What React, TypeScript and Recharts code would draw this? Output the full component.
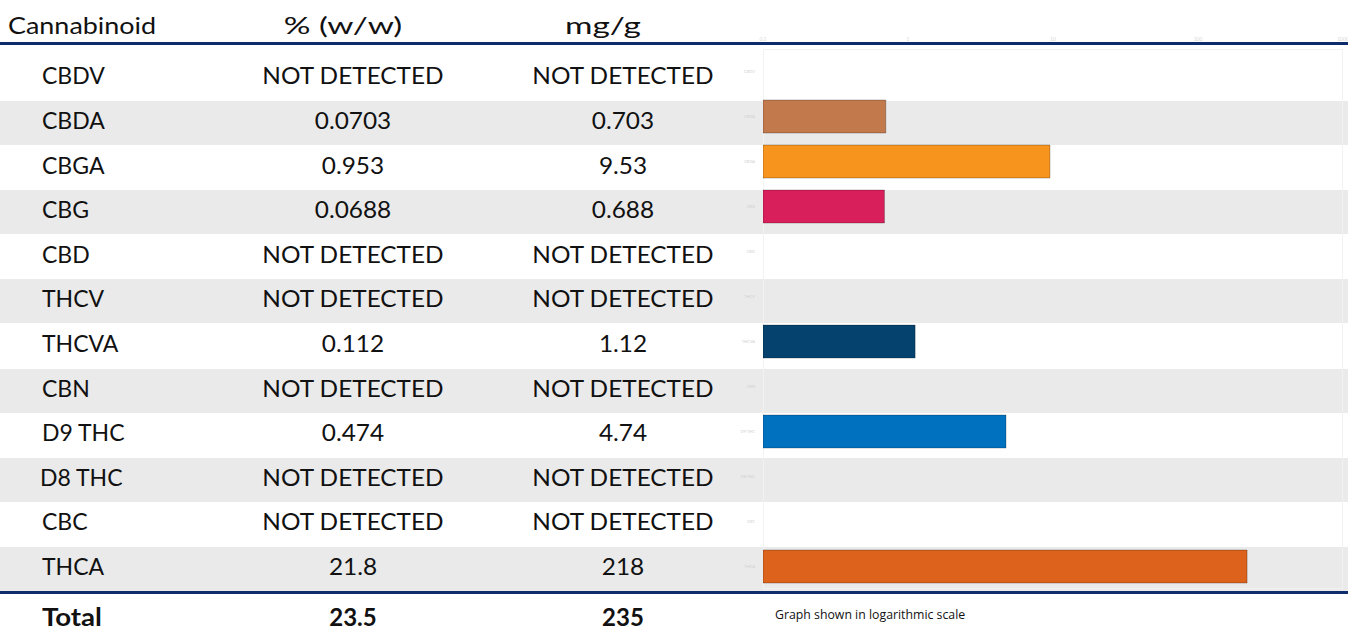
import React from 'react'
import { BarChart, Bar, XAxis, YAxis, Cell } from 'recharts'

// table + graph data
const cannabinoids = ['CBDV', 'CBDA', 'CBGA', 'CBG', 'CBD', 'THCV', 'THCVA', 'CBN', 'D9 THC', 'D8 THC', 'CBC', 'THCA']
const percentWW = ['NOT DETECTED', '0.0703', '0.953', '0.0688', 'NOT DETECTED', 'NOT DETECTED', '0.112', 'NOT DETECTED', '0.474', 'NOT DETECTED', 'NOT DETECTED', '21.8']
const mgPerG: (number | null)[] = [null, 0.703, 9.53, 0.688, null, null, 1.12, null, 4.74, null, null, 218]
const barColors = ['#C9C9C9', '#C27A4D', '#F7941D', '#D81F5B', '#C9C9C9', '#C9C9C9', '#05426E', '#C9C9C9', '#0071BF', '#C9C9C9', '#C9C9C9', '#DD621C']
const totals = { percent: '23.5', mg: '235' }
const logTicks = [0.1, 1, 10, 100, 1000]

const NAVY = '#0E2C6C'
const GRAY_ROW = '#EAEAEA'
const FONT = 'Lato, "Open Sans", sans-serif'

const rows = cannabinoids.map((name, i) => ({ name, value: mgPerG[i] }))

const ROW_TOP = 56.4
const ROW_H = 44.6
const FS = 23

export default function App() {
  const cell = (left: number, top: number, extra: React.CSSProperties = {}) => ({
    position: 'absolute' as const, left, width: 200, top, fontSize: FS, lineHeight: '30px', textAlign: 'center' as const, ...extra,
  })
  return (
    <div style={{ position: 'absolute', left: 0, top: 0, width: 1348, height: 633, background: '#fff', fontFamily: FONT, color: '#111', overflow: 'hidden' }}>
      {/* row bands */}
      {cannabinoids.map((_, i) =>
        i % 2 === 1 ? (
          <div key={'band' + i} style={{ position: 'absolute', left: 0, width: 1348, top: ROW_TOP + ROW_H * i, height: ROW_H - 0.6, background: GRAY_ROW }} />
        ) : null
      )}

      {/* plot frame */}
      <div style={{ position: 'absolute', left: 763, top: 49, width: 580, height: 540, border: '1px solid #F2F2F2', boxSizing: 'border-box' }} />

      {/* header (stretched like the source) */}
      <div style={{ position: 'absolute', left: 8, top: 10, fontSize: FS, lineHeight: '30px', transform: 'scaleX(1.17)', transformOrigin: 'left center' }}>Cannabinoid</div>
      <div style={cell(243, 10, { transform: 'scaleX(1.45)' })}>% (w/w)</div>
      <div style={cell(503, 10, { transform: 'scaleX(1.45)' })}>mg/g</div>

      {/* rows */}
      {cannabinoids.map((name, i) => {
        const top = ROW_TOP + ROW_H * i + 4
        return (
          <React.Fragment key={name}>
            <div style={{ position: 'absolute', left: name === 'D8 THC' ? 40 : 42, top, fontSize: FS, lineHeight: '30px' }}>{name}</div>
            <div style={cell(253, top, { transform: 'scaleX(1.06)' })}>{percentWW[i]}</div>
            <div style={cell(523, top, { transform: 'scaleX(1.06)' })}>
              {mgPerG[i] === null ? 'NOT DETECTED' : String(mgPerG[i])}
            </div>
          </React.Fragment>
        )
      })}

      {/* total row */}
      <div style={{ position: 'absolute', left: 42, top: 602, fontSize: 24, lineHeight: '30px', fontWeight: 700, transform: 'scaleX(1.15)', transformOrigin: 'left center' }}>Total</div>
      <div style={cell(253, 602, { fontSize: 24, fontWeight: 700 })}>{totals.percent}</div>
      <div style={cell(523, 602, { fontSize: 24, fontWeight: 700 })}>{totals.mg}</div>
      <div style={{ position: 'absolute', left: 775, top: 607, fontSize: 12.3, lineHeight: '16px', fontFamily: '"Open Sans", sans-serif' }}>Graph  shown in logarithmic scale</div>

      {/* bar graph */}
      <div style={{ position: 'absolute', left: 700, top: 0 }}>
        <BarChart width={648} height={633} data={rows} layout="vertical" margin={{ top: 29, right: 5, bottom: 44, left: 0 }}>
          <XAxis
            xAxisId="top"
            orientation="top"
            type="number"
            scale="log"
            domain={[0.1, 1000]}
            ticks={logTicks}
            allowDataOverflow
            height={20}
            axisLine={false}
            tickLine={false}
            tick={{ fontSize: 5, fill: '#D8D8D8' }}
          />
          <YAxis
            type="category"
            dataKey="name"
            width={63}
            axisLine={false}
            tickLine={false}
            tick={{ fontSize: 4, fill: '#D0D0D0' }}
          />
          <Bar xAxisId="top" dataKey="value" barSize={33} isAnimationActive={false}>
            {rows.map((r, i) => (
              <Cell key={r.name} fill={barColors[i]} stroke="rgba(0,0,0,0.25)" strokeWidth={1} />
            ))}
          </Bar>
        </BarChart>
      </div>

      {/* rules */}
      <div style={{ position: 'absolute', left: 0, width: 1348, top: 42, height: 3, background: NAVY }} />
      <div style={{ position: 'absolute', left: 0, width: 1348, top: 591, height: 3, background: NAVY }} />
    </div>
  )
}
